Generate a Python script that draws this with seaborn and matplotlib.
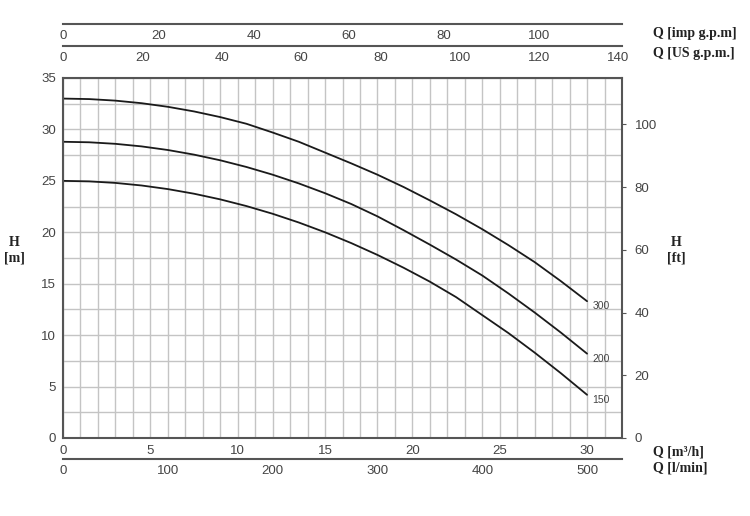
import numpy as np
import pandas as pd
import seaborn as sns
import matplotlib.pyplot as plt

# flow [m3/h] and head [m]
flow = [0, 1.5, 3, 4.5, 6, 7.5, 9, 10.5, 12, 13.5, 15, 16.5, 18, 19.5, 21,
        22.5, 24, 25.5, 27, 28.5, 30]
head_300 = [33.0, 32.95, 32.8, 32.55, 32.2, 31.75, 31.2, 30.55, 29.7, 28.8, 27.75,
            26.7, 25.6, 24.4, 23.1, 21.75, 20.3, 18.75, 17.1, 15.25, 13.3]
head_200 = [28.8, 28.75, 28.6, 28.35, 28.0, 27.55, 27.0, 26.35, 25.6, 24.75, 23.8,
            22.75, 21.55, 20.2, 18.8, 17.35, 15.8, 14.05, 12.2, 10.25, 8.2]
head_150 = [25.0, 24.95, 24.8, 24.55, 24.2, 23.75, 23.2, 22.55, 21.8, 20.95, 20.0,
            18.95, 17.8, 16.55, 15.2, 13.7, 11.95, 10.2, 8.3, 6.3, 4.2]
series_names = ["300", "200", "150"]

m3h_ticks = [0, 5, 10, 15, 20, 25, 30]
lmin_ticks = [0, 100, 200, 300, 400, 500]
us_ticks = [0, 20, 40, 60, 80, 100, 120, 140]
imp_ticks = [0, 20, 40, 60, 80, 100]
ft_ticks = [0, 20, 40, 60, 80, 100]

QMAX = 32
HMAX = 35

df = pd.DataFrame({
    "Q": flow * 3,
    "H": head_300 + head_200 + head_150,
    "model": np.repeat(series_names, len(flow)),
})

sns.set_style("white")
plt.rcParams["font.family"] = ["Liberation Sans", "DejaVu Sans"]

spine_col = "#555555"
txt_col = "#444444"
grid_col = "#c4c4c4"
serif = ["Liberation Serif", "DejaVu Serif"]

fig = plt.figure(figsize=(7.5, 5.16), dpi=100)
L, R = 63 / 750, 622 / 750
B, T = 1 - 438 / 516, 1 - 78 / 516
ax = fig.add_axes([L, B, R - L, T - B])

sns.lineplot(data=df, x="Q", y="H", hue="model", palette=["#1a1a1a"] * 3,
             linewidth=1.3, legend=False, ax=ax)

ax.set_xlim(0, QMAX)
ax.set_ylim(0, HMAX)
ax.set_xticks(m3h_ticks)
ax.set_xticks(np.arange(0, QMAX + 1, 1), minor=True)
ax.set_yticks(np.arange(0, HMAX + 1, 5))
ax.set_yticks(np.arange(0, HMAX + 0.1, 2.5), minor=True)
ax.grid(True, which="both", color=grid_col, linewidth=1.0)
ax.tick_params(which="both", length=0, labelsize=9.5, labelcolor=txt_col, pad=5)
ax.set_xlabel("")
ax.set_ylabel("")
for s in ax.spines.values():
    s.set_color(spine_col)
    s.set_linewidth(1.5)

# curve labels at the right end
for name, h in zip(series_names, [head_300, head_200, head_150]):
    ax.text(flow[-1] + 0.3, h[-1] - 0.5, name, fontsize=7.5, color=txt_col,
            ha="left", va="center")

# right axis in feet
axr = ax.twinx()
axr.set_ylim(0, HMAX / 0.3048)
axr.set_yticks(ft_ticks)
axr.tick_params(length=3, color=spine_col, labelsize=9.5, labelcolor=txt_col, pad=6)
for s in axr.spines.values():
    s.set_visible(False)

def flow_axis(ypix, conv, ticks, minor=None):
    a = fig.add_axes([L, 1 - ypix / 516, R - L, 0.001])
    a.set_xlim(0, QMAX * conv)
    a.set_yticks([])
    a.set_xticks(ticks)
    if minor:
        a.set_xticks(minor, minor=True)
    for k in ["top", "left", "right"]:
        a.spines[k].set_visible(False)
    a.spines["bottom"].set_color(spine_col)
    a.spines["bottom"].set_linewidth(1.5)
    a.tick_params(which="both", direction="inout", length=4, color=spine_col,
                  labelsize=9.5, labelcolor=txt_col, pad=2)
    a.patch.set_alpha(0)
    return a

flow_axis(459, 1000 / 60, lmin_ticks)
flow_axis(46, 1 / 0.2271, us_ticks)
flow_axis(24, 1 / 0.2728, imp_ticks, minor=[30])

def label(xpix, ypix, s, ha="left"):
    fig.text(xpix / 750, 1 - ypix / 516, s, family=serif, fontweight="bold",
             fontsize=10, color="#222222", ha=ha, va="center", linespacing=1.2)

label(14, 250, "H\n[m]", ha="center")
label(676, 250, "H\n[ft]", ha="center")
label(653, 452, "Q [m³/h]")
label(653, 468, "Q [l/min]")
label(653, 33, "Q [imp g.p.m]")
label(653, 54, "Q [US g.p.m.]")

fig.savefig("out.png", dpi=100)
